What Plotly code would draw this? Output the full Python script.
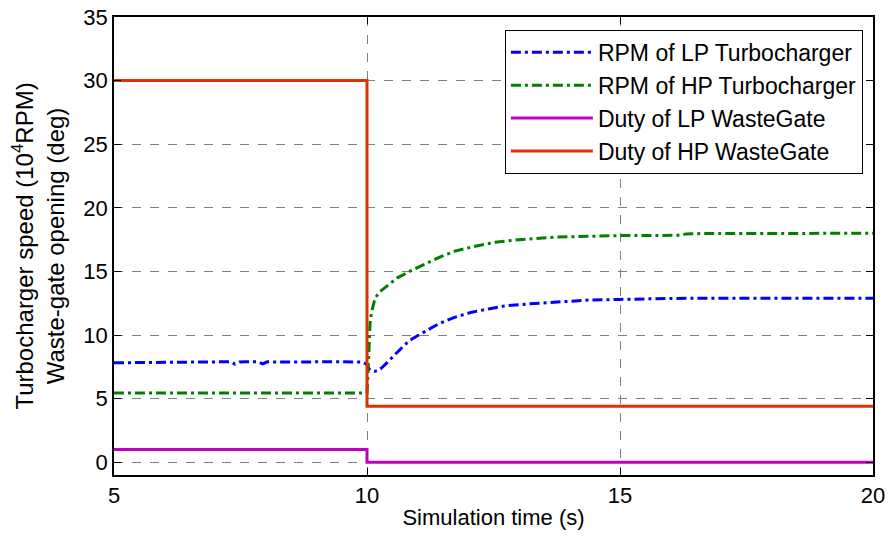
import plotly.graph_objects as go

# LP turbocharger RPM (10^4 RPM)
t_lp = [5.0, 5.5, 6.0, 6.5, 7.0, 7.3, 7.39, 7.48, 7.6, 7.85, 7.94, 8.03, 8.2, 8.6, 9.0, 9.5, 9.9, 10.0,
        10.04, 10.08, 10.15, 10.22, 10.3, 10.41, 10.5, 10.61, 10.75, 10.89, 11.0, 11.15, 11.4,
        11.7, 12.07, 12.4, 12.73, 13.2, 13.72, 14.37, 15.0, 15.3, 15.45, 16.0, 17.0, 18.0, 19.0, 20.0]
y_lp = [7.82, 7.84, 7.86, 7.87, 7.88, 7.9, 7.72, 7.88, 7.9, 7.9, 7.74, 7.9, 7.88, 7.9, 7.9, 7.9, 7.88, 7.7,
        7.35, 7.2, 7.15, 7.2, 7.45, 7.9, 8.3, 8.75, 9.25, 9.7, 9.95, 10.3, 10.85,
        11.35, 11.8, 12.05, 12.3, 12.45, 12.6, 12.75, 12.8, 12.82, 12.88, 12.88, 12.9, 12.9, 12.9, 12.9]

# HP turbocharger RPM (10^4 RPM)
t_hp = [5.0, 7.0, 9.0, 10.0, 10.02, 10.04, 10.06, 10.09, 10.12, 10.16, 10.25, 10.41, 10.6, 10.89,
        11.2, 11.45, 11.74, 12.1, 12.53, 13.0, 13.72, 14.5, 15.0, 15.6, 16.2, 16.3, 16.42, 17.0,
        18.0, 19.0, 20.0]
y_hp = [5.45, 5.45, 5.45, 5.45, 7.0, 9.5, 10.9, 11.8, 12.4, 12.9, 13.4, 13.9, 14.5, 15.1,
        15.7, 16.15, 16.6, 16.95, 17.3, 17.5, 17.7, 17.8, 17.82, 17.83, 17.84, 17.95, 17.97, 17.98,
        18.0, 18.0, 18.0]

# LP wastegate duty
t_lpwg = [5.0, 10.0, 10.0, 20.0]
y_lpwg = [1.0, 1.0, 0.0, 0.0]

# HP wastegate duty
t_hpwg = [5.0, 10.0, 10.0, 20.0]
y_hpwg = [30.0, 30.0, 4.4, 4.4]

font = "Liberation Sans, Arial, sans-serif"
dash = "10px,4px,3px,4px"

fig = go.Figure()
fig.add_trace(go.Scatter(x=t_lp, y=y_lp, mode="lines", name="RPM of LP Turbocharger",
                         legendgroup="a", line=dict(color="#0000ff", width=3, dash=dash)))
fig.add_trace(go.Scatter(x=t_hp, y=y_hp, mode="lines", name="RPM of HP Turbocharger",
                         legendgroup="b", line=dict(color="#008000", width=3, dash=dash)))
fig.add_trace(go.Scatter(x=t_lpwg, y=y_lpwg, mode="lines", name="Duty of LP WasteGate",
                         legendgroup="c", line=dict(color="#c000c0", width=3)))
fig.add_trace(go.Scatter(x=t_hpwg, y=y_hpwg, mode="lines", name="Duty of HP WasteGate",
                         legendgroup="d", line=dict(color="#e03000", width=3)))

axis_common = dict(showline=True, linecolor="black", linewidth=1.5, mirror="ticks",
                   ticks="inside", ticklen=7, tickcolor="black", automargin=False,
                   showgrid=True, gridcolor="#808080", griddash="dash", gridwidth=1,
                   zeroline=False, tickfont=dict(family=font, size=22, color="black"))

fig.update_layout(
    width=888, height=537,
    margin=dict(l=114, r=15, t=17, b=62),
    paper_bgcolor="white", plot_bgcolor="white",
    font=dict(family=font, size=22, color="black"),
    xaxis=dict(range=[5, 20], tickvals=[5, 10, 15, 20],
               title=dict(text="Simulation time (s)", font=dict(family=font, size=22), standoff=2),
               **axis_common),
    yaxis=dict(range=[-1, 35], tickvals=[0, 5, 10, 15, 20, 25, 30, 35],
               title=dict(text="Turbocharger speed (10<sup>4</sup>RPM)<br>Waste-gate opening (deg)",
                          font=dict(family=font, size=24), standoff=12),
               **axis_common),
    legend=dict(x=0.515, y=0.972, xanchor="left", yanchor="top",
                bgcolor="white", bordercolor="black", borderwidth=1,
                font=dict(family=font, size=23), itemwidth=82,
                traceorder="grouped", tracegroupgap=0),
)

fig.write_html("out.html")
